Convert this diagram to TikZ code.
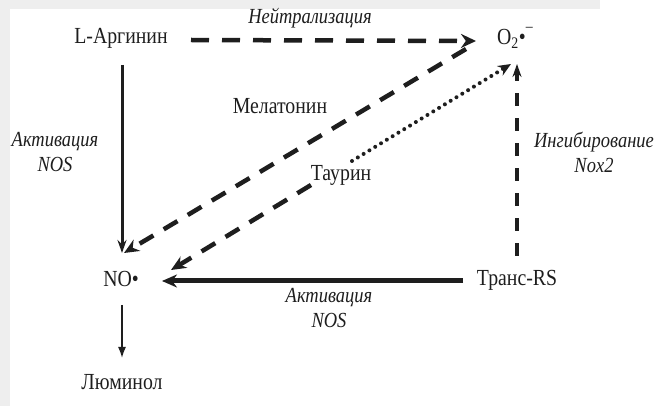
\documentclass[tikz,border=0pt]{standalone}
\usepackage{fontspec}
\setmainfont{Liberation Serif}[FakeStretch=0.86]
\usetikzlibrary{arrows.meta}
\definecolor{bggray}{HTML}{EEEEEE}
\definecolor{ink}{HTML}{1E1E1E}
\tikzset{
  lbl/.style={inner sep=0pt, text=ink, font=\fontsize{23}{25}\selectfont},
  ilbl/.style={inner sep=0pt, text=ink, font=\fontsize{21.5}{25}\selectfont\itshape},
  dashln/.style={draw=ink, line width=4.5pt, dash pattern=on 18pt off 13pt, -{Stealth[length=15pt,width=14pt]}},
  dashdiag/.style={draw=ink, line width=4.5pt, dash pattern=on 16pt off 12pt, -{Stealth[length=15pt,width=13pt]}},
  dotln/.style={draw=ink, line width=4pt, line cap=round, dash pattern=on 0pt off 6.8pt, -{Stealth[length=13pt,width=11pt]}},
  dashvert/.style={draw=ink, line width=3.8pt, dash pattern=on 13pt off 12pt, -{Stealth[length=13pt,width=9pt]}},
  solidln/.style={draw=ink, line width=3pt, -{Stealth[length=13pt,width=9pt]}},
  thickln/.style={draw=ink, line width=5pt, -{Stealth[length=15pt,width=13pt]}},
  thinln/.style={draw=ink, line width=1.6pt, -{Latex[length=11pt,width=8pt]}}
}
\begin{document}
\begin{tikzpicture}[x=1pt,y=-1pt]
\useasboundingbox (0,0) rectangle (657,406);
\fill[white] (0,0) rectangle (657,406);
\fill[bggray] (0,0) rectangle (10,406);
\fill[bggray] (0,0) rectangle (600,9);

% nodes
\node[lbl] (arg) at (121,38) {L-Аргинин};
\node[lbl, anchor=west] (o2) at (497,38) {O\textsubscript{2}\raisebox{0.5pt}{•}\raisebox{4pt}{\textsuperscript{–}}};
\node[lbl] (no) at (121,279) {NO•};
\node[lbl] (trans) at (517,280) {Транс-RS};
\node[lbl] (lum) at (122,382) {Люминол};

% labels
\node[ilbl] (neut) at (310,18) {Нейтрализация};
\node[lbl] (mel) at (280,106) {Мелатонин};
\node[lbl] (taur) at (341,175) {Таурин};
\node[ilbl, align=center] (actl) at (55,152) {Активация\\NOS};
\node[ilbl, align=center] (inh) at (594,152) {Ингибирование\\Nox2};
\node[ilbl, align=center] (actb) at (329,308) {Активация\\NOS};

% connector end points
\coordinate (argE) at (191,40);
\coordinate (o2W) at (476,41);
\coordinate (argS) at (122,65);
\coordinate (noN) at (122,253);
\coordinate (o2SW) at (466,49);
\coordinate (noNE) at (124,253);
\coordinate (taurSW) at (311,185);
\coordinate (noE2) at (171,270);
\coordinate (taurNE) at (352,161);
\coordinate (o2S) at (511,64);
\coordinate (transN) at (517,256);
\coordinate (o2S2) at (517,64);
\coordinate (transW) at (463,281);
\coordinate (noE) at (162,281);
\coordinate (noS) at (122,305);
\coordinate (lumN) at (122,358);

% connectors
\draw[dashln] (argE) -- (o2W);
\draw[solidln] (argS) -- (noN);
\draw[dashdiag] (o2SW) -- (noNE);
\draw[dashdiag] (taurSW) -- (noE2);
\draw[dotln] (taurNE) -- (o2S);
\draw[dashvert] (transN) -- (o2S2);
\draw[thickln] (transW) -- (noE);
\draw[thinln] (noS) -- (lumN);
\end{tikzpicture}
\end{document}
